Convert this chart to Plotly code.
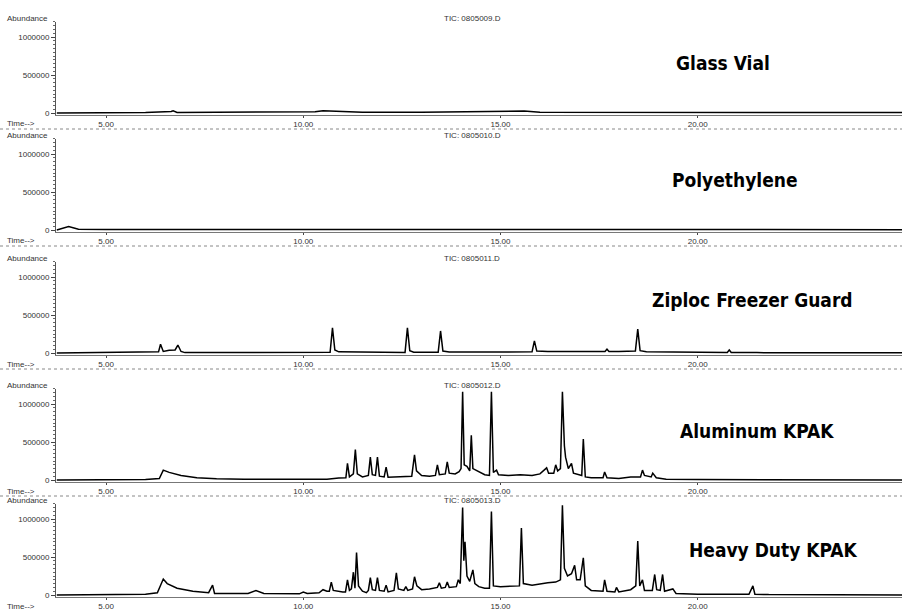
import plotly.graph_objects as go

# ---------------- data ----------------
sample_labels = ["Glass Vial", "Polyethylene", "Ziploc Freezer Guard", "Aluminum KPAK", "Heavy Duty KPAK"]
tic_titles = ["TIC: 0805009.D", "TIC: 0805010.D", "TIC: 0805011.D", "TIC: 0805012.D", "TIC: 0805013.D"]

x_tick_vals = [5, 10, 15, 20]
x_tick_text = ["5.00", "10.00", "15.00", "20.00"]
y_tick_vals = [0, 500000, 1000000]
y_tick_text = ["0", "500000", "1000000"]

time_glass = [3.75, 4.5, 6.0, 6.65, 6.7, 6.8, 8.0, 9.5, 10.3, 10.5, 10.9, 11.5, 13.0, 14.0, 15.3, 15.6, 16.0, 18.0, 20.0, 22.0, 25.2]
abund_glass = [0, 4000, 6000, 20000, 30000, 8000, 8000, 10000, 15000, 30000, 22000, 10000, 10000, 15000, 28000, 25000, 10000, 8000, 8000, 6000, 5000]

time_poly = [3.75, 3.95, 4.05, 4.3, 5.0, 6.5, 8.0, 10.0, 12.0, 14.0, 16.0, 18.0, 20.0, 22.0, 25.2]
abund_poly = [0, 30000, 45000, 10000, 5000, 8000, 6000, 8000, 6000, 8000, 7000, 6000, 7000, 5000, 4000]

time_ziploc = [3.75, 5.0, 6.2, 6.33, 6.38, 6.45, 6.6, 6.75, 6.82, 6.9, 7.0, 8.0, 9.5, 10.68, 10.74, 10.8, 10.9,
               12.0, 12.58, 12.64, 12.7, 12.8, 13.42, 13.48, 13.54, 13.7, 14.5, 15.8, 15.86, 15.92, 16.2, 17.0,
               17.65, 17.7, 17.75, 18.0, 18.42, 18.48, 18.54, 18.7, 19.5, 20.75, 20.8, 20.85, 21.5, 25.2]
abund_ziploc = [0, 5000, 5000, 15000, 115000, 20000, 35000, 40000, 105000, 20000, 5000, 6000, 8000, 10000, 330000, 40000, 15000,
                10000, 8000, 330000, 30000, 10000, 10000, 290000, 25000, 12000, 15000, 15000, 160000, 25000, 20000, 22000,
                20000, 50000, 20000, 20000, 25000, 315000, 30000, 15000, 10000, 8000, 40000, 8000, 5000, 3000]

time_alu = [3.75, 6.0, 6.35, 6.45, 6.6, 6.9, 7.3, 7.8, 8.5, 10.6, 10.9, 11.08, 11.12, 11.17, 11.27, 11.32, 11.37, 11.5,
            11.65, 11.7, 11.75, 11.83, 11.88, 11.93, 12.05, 12.1, 12.15, 12.4, 12.75, 12.82, 12.87, 13.0, 13.2, 13.35,
            13.4, 13.45, 13.6, 13.65, 13.7, 13.85, 13.95, 14.0, 14.04, 14.08, 14.15, 14.22, 14.26, 14.3, 14.4, 14.5,
            14.6, 14.72, 14.77, 14.82, 14.9, 14.95, 15.2, 15.5, 15.8, 16.0, 16.17, 16.22, 16.35, 16.4, 16.45, 16.52,
            16.57, 16.62, 16.65, 16.72, 16.8, 16.85, 17.0, 17.06, 17.1, 17.15, 17.3, 17.6, 17.64, 17.7, 18.0, 18.3,
            18.55, 18.6, 18.65, 18.82, 18.86, 18.95, 19.2, 20.0, 25.2]
abund_alu = [0, 5000, 20000, 130000, 100000, 60000, 30000, 15000, 10000, 10000, 25000, 30000, 220000, 40000, 80000, 400000, 80000, 40000,
             60000, 300000, 70000, 60000, 300000, 50000, 40000, 170000, 35000, 40000, 50000, 330000, 120000, 60000, 50000, 60000,
             200000, 70000, 80000, 240000, 90000, 80000, 110000, 150000, 1160000, 200000, 180000, 120000, 590000, 150000, 120000, 90000,
             70000, 60000, 1160000, 100000, 130000, 70000, 60000, 70000, 60000, 80000, 160000, 90000, 90000, 200000, 120000, 150000,
             1160000, 450000, 300000, 150000, 220000, 90000, 70000, 60000, 540000, 40000, 30000, 30000, 105000, 30000, 20000, 40000,
             40000, 130000, 60000, 40000, 90000, 30000, 10000, 5000, 0]

time_heavy = [3.75, 6.0, 6.3, 6.45, 6.55, 6.8, 7.2, 7.6, 7.7, 7.75, 8.6, 8.8, 9.0, 9.9, 10.0, 10.1, 10.4, 10.5, 10.6,
              10.66, 10.71, 10.76, 11.0, 11.07, 11.12, 11.17, 11.22, 11.27, 11.31, 11.35, 11.4, 11.5, 11.6, 11.65, 11.7,
              11.75, 11.83, 11.88, 11.93, 12.05, 12.1, 12.15, 12.3, 12.36, 12.41, 12.55, 12.6, 12.65, 12.77, 12.82, 12.88,
              13.0, 13.2, 13.4, 13.45, 13.5, 13.6, 13.65, 13.7, 13.88, 13.93, 13.98, 14.04, 14.07, 14.1, 14.15, 14.22,
              14.3, 14.35, 14.45, 14.6, 14.72, 14.77, 14.82, 15.0, 15.3, 15.48, 15.53, 15.58, 15.8, 16.0, 16.2, 16.4,
              16.52, 16.57, 16.62, 16.7, 16.8, 16.88, 16.93, 17.02, 17.1, 17.15, 17.3, 17.6, 17.64, 17.7, 17.9, 17.94,
              18.0, 18.3, 18.43, 18.48, 18.53, 18.6, 18.65, 18.85, 18.91, 18.96, 19.05, 19.11, 19.16, 19.37, 19.45, 20.0,
              21.3, 21.4, 21.45, 21.8, 25.2]
abund_heavy = [0, 10000, 30000, 210000, 150000, 90000, 50000, 30000, 130000, 20000, 20000, 60000, 20000, 15000, 40000, 20000, 30000, 70000, 50000,
               50000, 170000, 60000, 40000, 40000, 200000, 60000, 80000, 300000, 90000, 560000, 120000, 50000, 30000, 60000, 230000,
               70000, 60000, 230000, 60000, 50000, 130000, 40000, 60000, 290000, 80000, 60000, 110000, 60000, 80000, 240000, 120000,
               70000, 80000, 100000, 160000, 90000, 100000, 170000, 100000, 110000, 200000, 150000, 1150000, 450000, 700000, 250000, 180000,
               330000, 150000, 110000, 90000, 90000, 1100000, 120000, 110000, 120000, 120000, 880000, 150000, 130000, 150000, 160000, 170000,
               200000, 1180000, 350000, 250000, 280000, 390000, 200000, 200000, 490000, 120000, 60000, 50000, 200000, 50000, 40000, 100000,
               40000, 70000, 120000, 710000, 120000, 200000, 60000, 60000, 270000, 70000, 60000, 270000, 50000, 80000, 20000, 10000,
               10000, 120000, 10000, 5000, 0]

series_times = [time_glass, time_poly, time_ziploc, time_alu, time_heavy]
series_abund = [abund_glass, abund_poly, abund_ziploc, abund_alu, abund_heavy]

# ---------------- layout geometry (pixels) ----------------
W, H = 902, 612
baselines = [113, 230, 353, 480, 595]
px_per_unit = 1 / 13158.0
x_left_px = 56
x_range = [3.73, 25.18]
y_range = [-20000, 1200000]
label_pos = [(723, 63), (735, 180), (752, 300), (757, 431), (773, 550)]

fig = go.Figure()
small_font = dict(family="Liberation Sans, Arial, sans-serif", size=8, color="#333333")
label_font = dict(family="Liberation Sans Narrow, DejaVu Sans Condensed, Arial Narrow, sans-serif", size=19, color="#000000")

layout_axes = {}
for i in range(5):
    n = "" if i == 0 else str(i + 1)
    b = baselines[i]
    span_px = (y_range[1] - y_range[0]) * px_per_unit
    bottom_px = b + (0 - y_range[0]) * px_per_unit
    top_px = bottom_px - span_px
    fig.add_trace(go.Scatter(x=series_times[i], y=series_abund[i], mode="lines",
                             line=dict(color="#000000", width=1.5),
                             xaxis="x" + n, yaxis="y" + n, showlegend=False, hoverinfo="skip"))
    layout_axes["xaxis" + n] = dict(
        domain=[x_left_px / W, 1.0], range=x_range, anchor="y" + n, automargin=False,
        tickvals=x_tick_vals, ticktext=x_tick_text, ticks="outside", ticklen=2, tickcolor="#444",
        showline=True, linecolor="#777777", linewidth=1, showgrid=False, zeroline=False,
        tickfont=small_font)
    layout_axes["yaxis" + n] = dict(
        domain=[1 - bottom_px / H, 1 - top_px / H], range=y_range, anchor="x" + n, automargin=False,
        tickvals=y_tick_vals, ticktext=y_tick_text, ticks="outside", ticklen=4, tickcolor="#444",
        minor=dict(dtick=50000, ticks="outside", ticklen=2, tickcolor="#666", showgrid=False),
        showline=True, linecolor="#555555", linewidth=1, showgrid=False, zeroline=False,
        tickfont=small_font)

    # header texts
    fig.add_annotation(x=5 / W, y=1 - (b - 95) / H, xref="paper", yref="paper", text="Abundance",
                       showarrow=False, xanchor="left", yanchor="middle", font=small_font)
    fig.add_annotation(x=472 / W, y=1 - (b - 95) / H, xref="paper", yref="paper", text=tic_titles[i],
                       showarrow=False, xanchor="center", yanchor="middle", font=small_font)
    fig.add_annotation(x=5 / W, y=1 - (b + 11) / H, xref="paper", yref="paper", text="Time-->",
                       showarrow=False, xanchor="left", yanchor="middle", font=small_font)
    lx, ly = label_pos[i]
    fig.add_annotation(x=lx / W, y=1 - ly / H, xref="paper", yref="paper", text="<b>" + sample_labels[i] + "</b>",
                       showarrow=False, xanchor="center", yanchor="middle", font=label_font)
    if i < 4:
        fig.add_shape(type="line", xref="paper", yref="paper", x0=0, x1=1,
                      y0=1 - (b + 16) / H, y1=1 - (b + 16) / H,
                      line=dict(color="#888888", width=1, dash="dot"))

fig.update_layout(width=W, height=H, margin=dict(l=0, r=0, t=0, b=0),
                  paper_bgcolor="white", plot_bgcolor="white", showlegend=False, **layout_axes)

fig.write_html("out.html", config={"displayModeBar": False},
               post_script="document.body.style.margin='0';document.body.style.overflow='hidden';")
